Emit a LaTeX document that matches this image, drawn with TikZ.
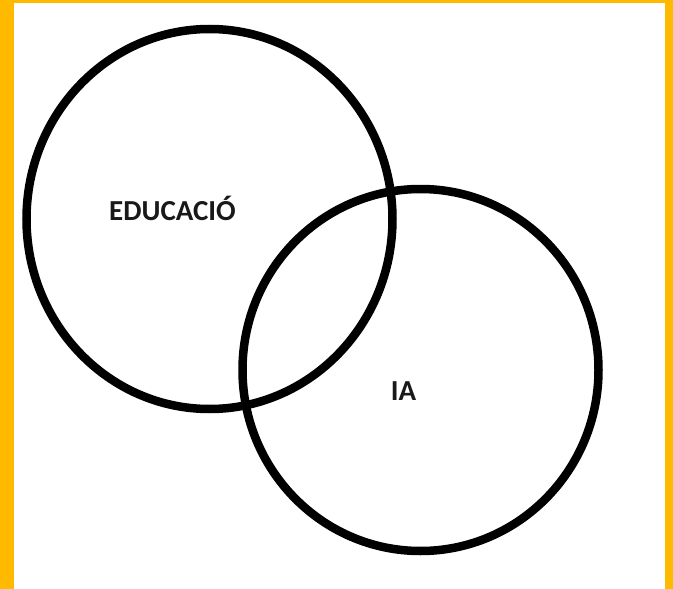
\documentclass[tikz,border=0pt]{standalone}
\usepackage{fontspec}
\setmainfont{Carlito}
\definecolor{framegold}{HTML}{FFBA00}
\tikzset{
  ring/.style={draw=black, line width=8.5pt},
  lbl/.style={font=\fontsize{29}{33}\selectfont\bfseries, text=black!90, anchor=base, inner sep=0pt}
}
\begin{document}
\begin{tikzpicture}[x=1pt,y=-1pt]
  \useasboundingbox (0,0) rectangle (673,589);
  \fill[framegold] (0,0) rectangle (673,589);
  \fill[white] (14,3) rectangle (665,589);
  \draw[ring] (209.5,219) ellipse [x radius=183pt, y radius=190pt];
  \draw[ring] (420.5,370) ellipse [x radius=178pt, y radius=181pt];
  \node[lbl] (edu) at (172.5,220) {EDUCACIÓ};
  \node[lbl] (ia) at (403.5,400) {IA};
\end{tikzpicture}
\end{document}
